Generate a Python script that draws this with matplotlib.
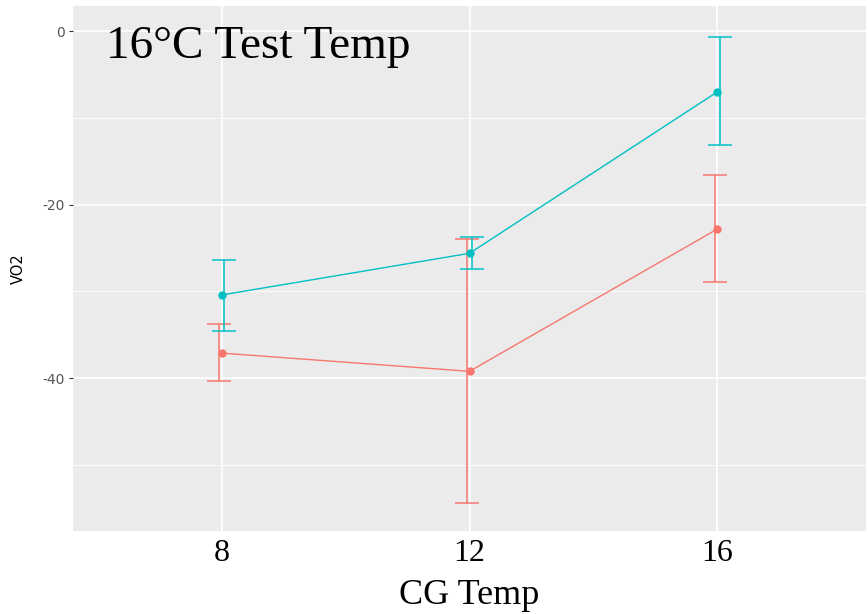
import matplotlib
matplotlib.use("Agg")
import matplotlib.pyplot as plt
import numpy as np

# CG temperature groups and VO2 summaries for the two series
cg_temp = [8, 12, 16]
tick_labels = ["8", "12", "16"]

red_mean = [-37.1, -39.2, -22.8]
red_low = [-40.3, -54.4, -28.9]
red_high = [-33.8, -24.0, -16.6]

teal_mean = [-30.4, -25.6, -7.0]
teal_low = [-34.6, -27.4, -13.1]
teal_high = [-26.4, -23.7, -0.7]

y_ticks = [0, -20, -40]
y_minor = [-10, -30, -50]

RED = "#F8766D"
TEAL = "#00BFC4"

fig = plt.figure(figsize=(8.68, 6.14), dpi=100)
ax = fig.add_axes([73 / 868, 1 - 531 / 614, (866 - 73) / 868, (531 - 6) / 614])
ax.set_facecolor("#EBEBEB")
for s in ax.spines.values():
    s.set_visible(False)

ax.set_xlim(5.6, 18.4)
ax.set_ylim(-57.6, 2.9)

for v in y_minor:
    ax.axhline(v, color="white", lw=0.6, zorder=0)
for v in y_ticks:
    ax.axhline(v, color="white", lw=1.2, zorder=0)
for v in cg_temp:
    ax.axvline(v, color="white", lw=1.2, zorder=0)

x = np.array(cg_temp, dtype=float)
dodge = 0.04
cap = 0.19

def draw_series(mean, low, high, color, off):
    mean = np.array(mean)
    low = np.array(low)
    high = np.array(high)
    ax.plot(x, mean, color=color, lw=1.0, zorder=3)
    ax.plot(x, mean, "o", color=color, ms=5, zorder=4)
    xe = x + off
    ax.vlines(xe, low, high, color=color, lw=1.1, zorder=3)
    ax.hlines(low, xe - cap, xe + cap, color=color, lw=1.1, zorder=3)
    ax.hlines(high, xe - cap, xe + cap, color=color, lw=1.1, zorder=3)

draw_series(red_mean, red_low, red_high, RED, -dodge)
draw_series(teal_mean, teal_low, teal_high, TEAL, dodge)

ax.set_xticks(cg_temp)
ax.set_xticklabels(tick_labels, family="Liberation Serif", fontsize=23, color="black")
ax.set_yticks(y_ticks)
ax.set_yticklabels([str(v) for v in y_ticks], fontsize=10, color="#555555")
ax.tick_params(axis="x", length=0, pad=6)
ax.tick_params(axis="y", length=3, color="#333333", pad=3)

ax.set_xlabel("CG Temp", family="Liberation Serif", fontsize=26, labelpad=8)
ax.set_ylabel("VO2", fontsize=10.5, labelpad=12)

ax.text(0.041, 0.962, "16°C Test Temp", transform=ax.transAxes,
        family="Liberation Serif", fontsize=34, va="top", ha="left")

fig.savefig("out.png", dpi=100)
